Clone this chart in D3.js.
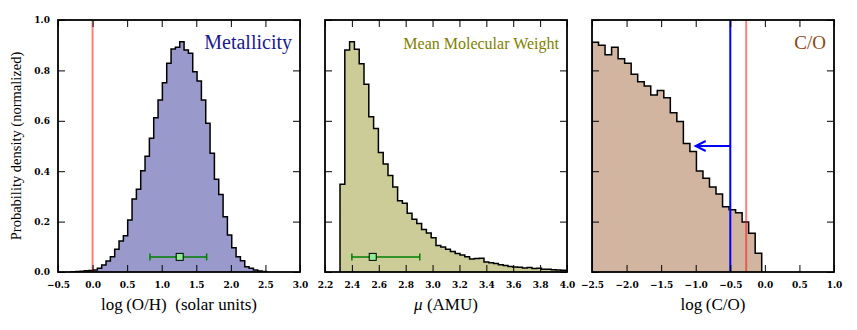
<!DOCTYPE html>
<html>
<head>
<meta charset="utf-8">
<script src="https://cdn.jsdelivr.net/npm/d3@7"></script>
<style>
    body { margin: 0; background: #fff; }
</style>
</head>
<body>
<div id="chart"></div>
<script>
// values

const yTicks = [0, 0.2, 0.4, 0.6, 0.8, 1.0];

// metallicity panel
const metalTicks = [-0.5, 0, 0.5, 1.0, 1.5, 2.0, 2.5, 3.0];
const metalStart = -0.307, metalWidth = 0.0627; // first bin edge, bin width
const metalDensity = [0.001, 0.002, 0.003, 0.005, 0.006, 0.008, 0.015, 0.028, 0.044, 0.061, 0.09, 0.123, 0.144,
    0.206, 0.29, 0.328, 0.402, 0.459, 0.531, 0.612, 0.683, 0.751, 0.828, 0.885, 0.892, 0.914,
    0.881, 0.868, 0.795, 0.758, 0.683, 0.59, 0.471, 0.368, 0.308, 0.219, 0.147, 0.096, 0.061,
    0.045, 0.021, 0.015, 0.008, 0.004, 0.002];
const metalError = [0.83, 1.26, 1.65]; // low, best, high
const metalSolar = 0.0;

// mean molecular weight panel
const muTicks = [2.2, 2.4, 2.6, 2.8, 3.0, 3.2, 3.4, 3.6, 3.8, 4.0];
const muStart = 2.3116, muWidth = 0.0357;
const muDensity = [0.348, 0.881, 0.914, 0.884, 0.826, 0.745, 0.616, 0.569, 0.474, 0.429, 0.383, 0.337,
    0.283, 0.273, 0.233, 0.209, 0.192, 0.169, 0.155, 0.136, 0.105, 0.099, 0.09, 0.081, 0.073,
    0.067, 0.061, 0.052, 0.054, 0.055, 0.04, 0.037, 0.034, 0.029, 0.026, 0.022, 0.02, 0.019,
    0.016, 0.018, 0.014, 0.015, 0.011, 0.011, 0.009, 0.008, 0.007, 0.006];
const muError = [2.40, 2.555, 2.905];

// C/O panel
const coTicks = [-2.5, -2.0, -1.5, -1.0, -0.5, 0.0, 0.5, 1.0];
const coStart = -2.5, coWidth = 0.0944;
const coDensity = [0.912, 0.9, 0.862, 0.892, 0.846, 0.828, 0.785, 0.755, 0.738, 0.702, 0.72, 0.691,
    0.632, 0.597, 0.51, 0.478, 0.401, 0.372, 0.337, 0.31, 0.259, 0.247, 0.235, 0.198, 0.154, 0.074];
const coSolar = -0.27;
const coLimit = -0.5;
const coArrow = [-0.5, -1.0, 0.5]; // from, to, height

const errY = 0.06;

// layout
const margin = {top: 20, left: 58};
const panelW = 242, panelH = 252, gap = 25;
const serif = '"Liberation Serif", "Times New Roman", serif';
const tickFont = '"DejaVu Serif", serif';

const svg = d3.select("#chart")
    .append("svg")
    .attr("width", 857)
    .attr("height", 330);

function drawPanel(i, o) {
    const g = svg.append("g")
        .attr("transform", `translate(${margin.left + i * (panelW + gap)}, ${margin.top})`);

    const xScale = d3.scaleLinear().domain(o.domain).range([0, panelW]);
    const yScale = d3.scaleLinear().domain([0, 1]).range([panelH, 0]);

    g.append("clipPath").attr("id", "clip" + i)
        .append("rect").attr("width", panelW).attr("height", panelH);

    // histogram outline as steps
    const pts = [[o.start, 0]];
    o.density.forEach((d, k) => {
        pts.push([o.start + k * o.width, d]);
        pts.push([o.start + (k + 1) * o.width, d]);
    });
    pts.push([o.start + o.density.length * o.width, 0]);

    const line = d3.line().x(d => xScale(d[0])).y(d => yScale(d[1]));
    g.append("path")
        .datum(pts)
        .attr("d", line)
        .attr("fill", o.fill)
        .attr("stroke", "#000")
        .attr("stroke-width", 1.5)
        .attr("clip-path", `url(#clip${i})`);

    // reference lines
    (o.vlines || []).forEach(v => {
        g.append("line")
            .attr("x1", xScale(v.x)).attr("x2", xScale(v.x))
            .attr("y1", 0).attr("y2", panelH)
            .attr("stroke", v.color)
            .attr("stroke-width", 2);
    });

    // upper-limit arrow
    if (o.arrow) {
        const [x0, x1, yv] = o.arrow;
        const tx = xScale(x1), ty = yScale(yv);
        g.append("line")
            .attr("x1", xScale(x0)).attr("x2", tx)
            .attr("y1", ty).attr("y2", ty)
            .attr("stroke", "#0000ff").attr("stroke-width", 2);
        g.append("path")
            .attr("d", `M${tx + 10},${ty - 5}L${tx},${ty}L${tx + 10},${ty + 5}`)
            .attr("fill", "none").attr("stroke", "#0000ff").attr("stroke-width", 2);
    }

    // error bar with square marker
    if (o.err) {
        const [lo, mid, hi] = o.err;
        const ey = yScale(errY);
        g.append("line")
            .attr("x1", xScale(lo)).attr("x2", xScale(hi))
            .attr("y1", ey).attr("y2", ey)
            .attr("stroke", "#008000").attr("stroke-width", 1.5);
        [lo, hi].forEach(v => {
            g.append("line")
                .attr("x1", xScale(v)).attr("x2", xScale(v))
                .attr("y1", ey - 3.5).attr("y2", ey + 3.5)
                .attr("stroke", "#008000").attr("stroke-width", 1.5);
        });
        g.append("rect")
            .attr("x", xScale(mid) - 3.5).attr("y", ey - 3.5)
            .attr("width", 7).attr("height", 7)
            .attr("fill", "#90ee90").attr("stroke", "#000").attr("stroke-width", 1);
    }

    // axes, ticks pointing inward on all sides
    const fmt = d3.format(".1f");
    g.append("g")
        .attr("transform", `translate(0, ${panelH})`)
        .call(d3.axisBottom(xScale).tickValues(o.ticks).tickSize(-7).tickPadding(10).tickFormat(fmt))
        .call(a => a.select(".domain").remove());
    g.append("g")
        .call(d3.axisTop(xScale).tickValues(o.ticks).tickSize(-7).tickFormat(""))
        .call(a => a.select(".domain").remove());
    g.append("g")
        .call(d3.axisLeft(yScale).tickValues(yTicks).tickSize(-7).tickPadding(8)
            .tickFormat(i === 0 ? fmt : ""))
        .call(a => a.select(".domain").remove());
    g.append("g")
        .attr("transform", `translate(${panelW}, 0)`)
        .call(d3.axisRight(yScale).tickValues(yTicks).tickSize(-7).tickFormat(""))
        .call(a => a.select(".domain").remove());
    g.selectAll(".tick line").attr("stroke", "#000").attr("stroke-width", 1);
    g.selectAll(".tick text")
        .attr("fill", "#000")
        .style("font-family", tickFont)
        .style("font-weight", "bold")
        .style("font-size", "9px");

    // frame
    g.append("rect")
        .attr("width", panelW).attr("height", panelH)
        .attr("fill", "none").attr("stroke", "#000").attr("stroke-width", 1.8);

    // panel title
    g.append("text")
        .attr("x", panelW - 8)
        .attr("y", 29)
        .attr("text-anchor", "end")
        .style("font-family", serif)
        .style("font-size", o.titleSize + "px")
        .attr("fill", o.titleColor)
        .text(o.title);

    // x label
    const lab = g.append("text")
        .attr("x", panelW / 2)
        .attr("y", panelH + 38)
        .attr("text-anchor", "middle")
        .style("font-family", serif)
        .style("font-size", "17px");
    o.xlabel.forEach(p => {
        lab.append("tspan").style("font-style", p.italic ? "italic" : "normal").text(p.t);
    });
}

drawPanel(0, {
    domain: [-0.5, 3.0], ticks: metalTicks,
    start: metalStart, width: metalWidth, density: metalDensity,
    fill: "#9999cc", err: metalError,
    vlines: [{x: metalSolar, color: "rgba(255,0,0,0.5)"}],
    title: "Metallicity", titleColor: "#1a1a8c", titleSize: 20,
    xlabel: [{t: "log\u2009(O/H)\u2002(solar units)"}]
});

drawPanel(1, {
    domain: [2.2, 4.0], ticks: muTicks,
    start: muStart, width: muWidth, density: muDensity,
    fill: "#cccc99", err: muError,
    title: "Mean Molecular Weight", titleColor: "#808000", titleSize: 16,
    xlabel: [{t: "\u03bc", italic: true}, {t: " (AMU)"}]
});

drawPanel(2, {
    domain: [-2.5, 1.0], ticks: coTicks,
    start: coStart, width: coWidth, density: coDensity,
    fill: "#d1b5a1",
    vlines: [{x: coLimit, color: "#0000ff"}, {x: coSolar, color: "rgba(255,0,0,0.5)"}],
    arrow: coArrow,
    title: "C/O", titleColor: "#8b4513", titleSize: 19,
    xlabel: [{t: "log\u2009(C/O)"}]
});

// shared y label
svg.append("text")
    .attr("transform", `translate(21, ${margin.top + panelH / 2}) rotate(-90)`)
    .attr("text-anchor", "middle")
    .style("font-family", serif)
    .style("font-size", "14.5px")
    .text("Probability density (normalized)");
</script>
</body>
</html>
